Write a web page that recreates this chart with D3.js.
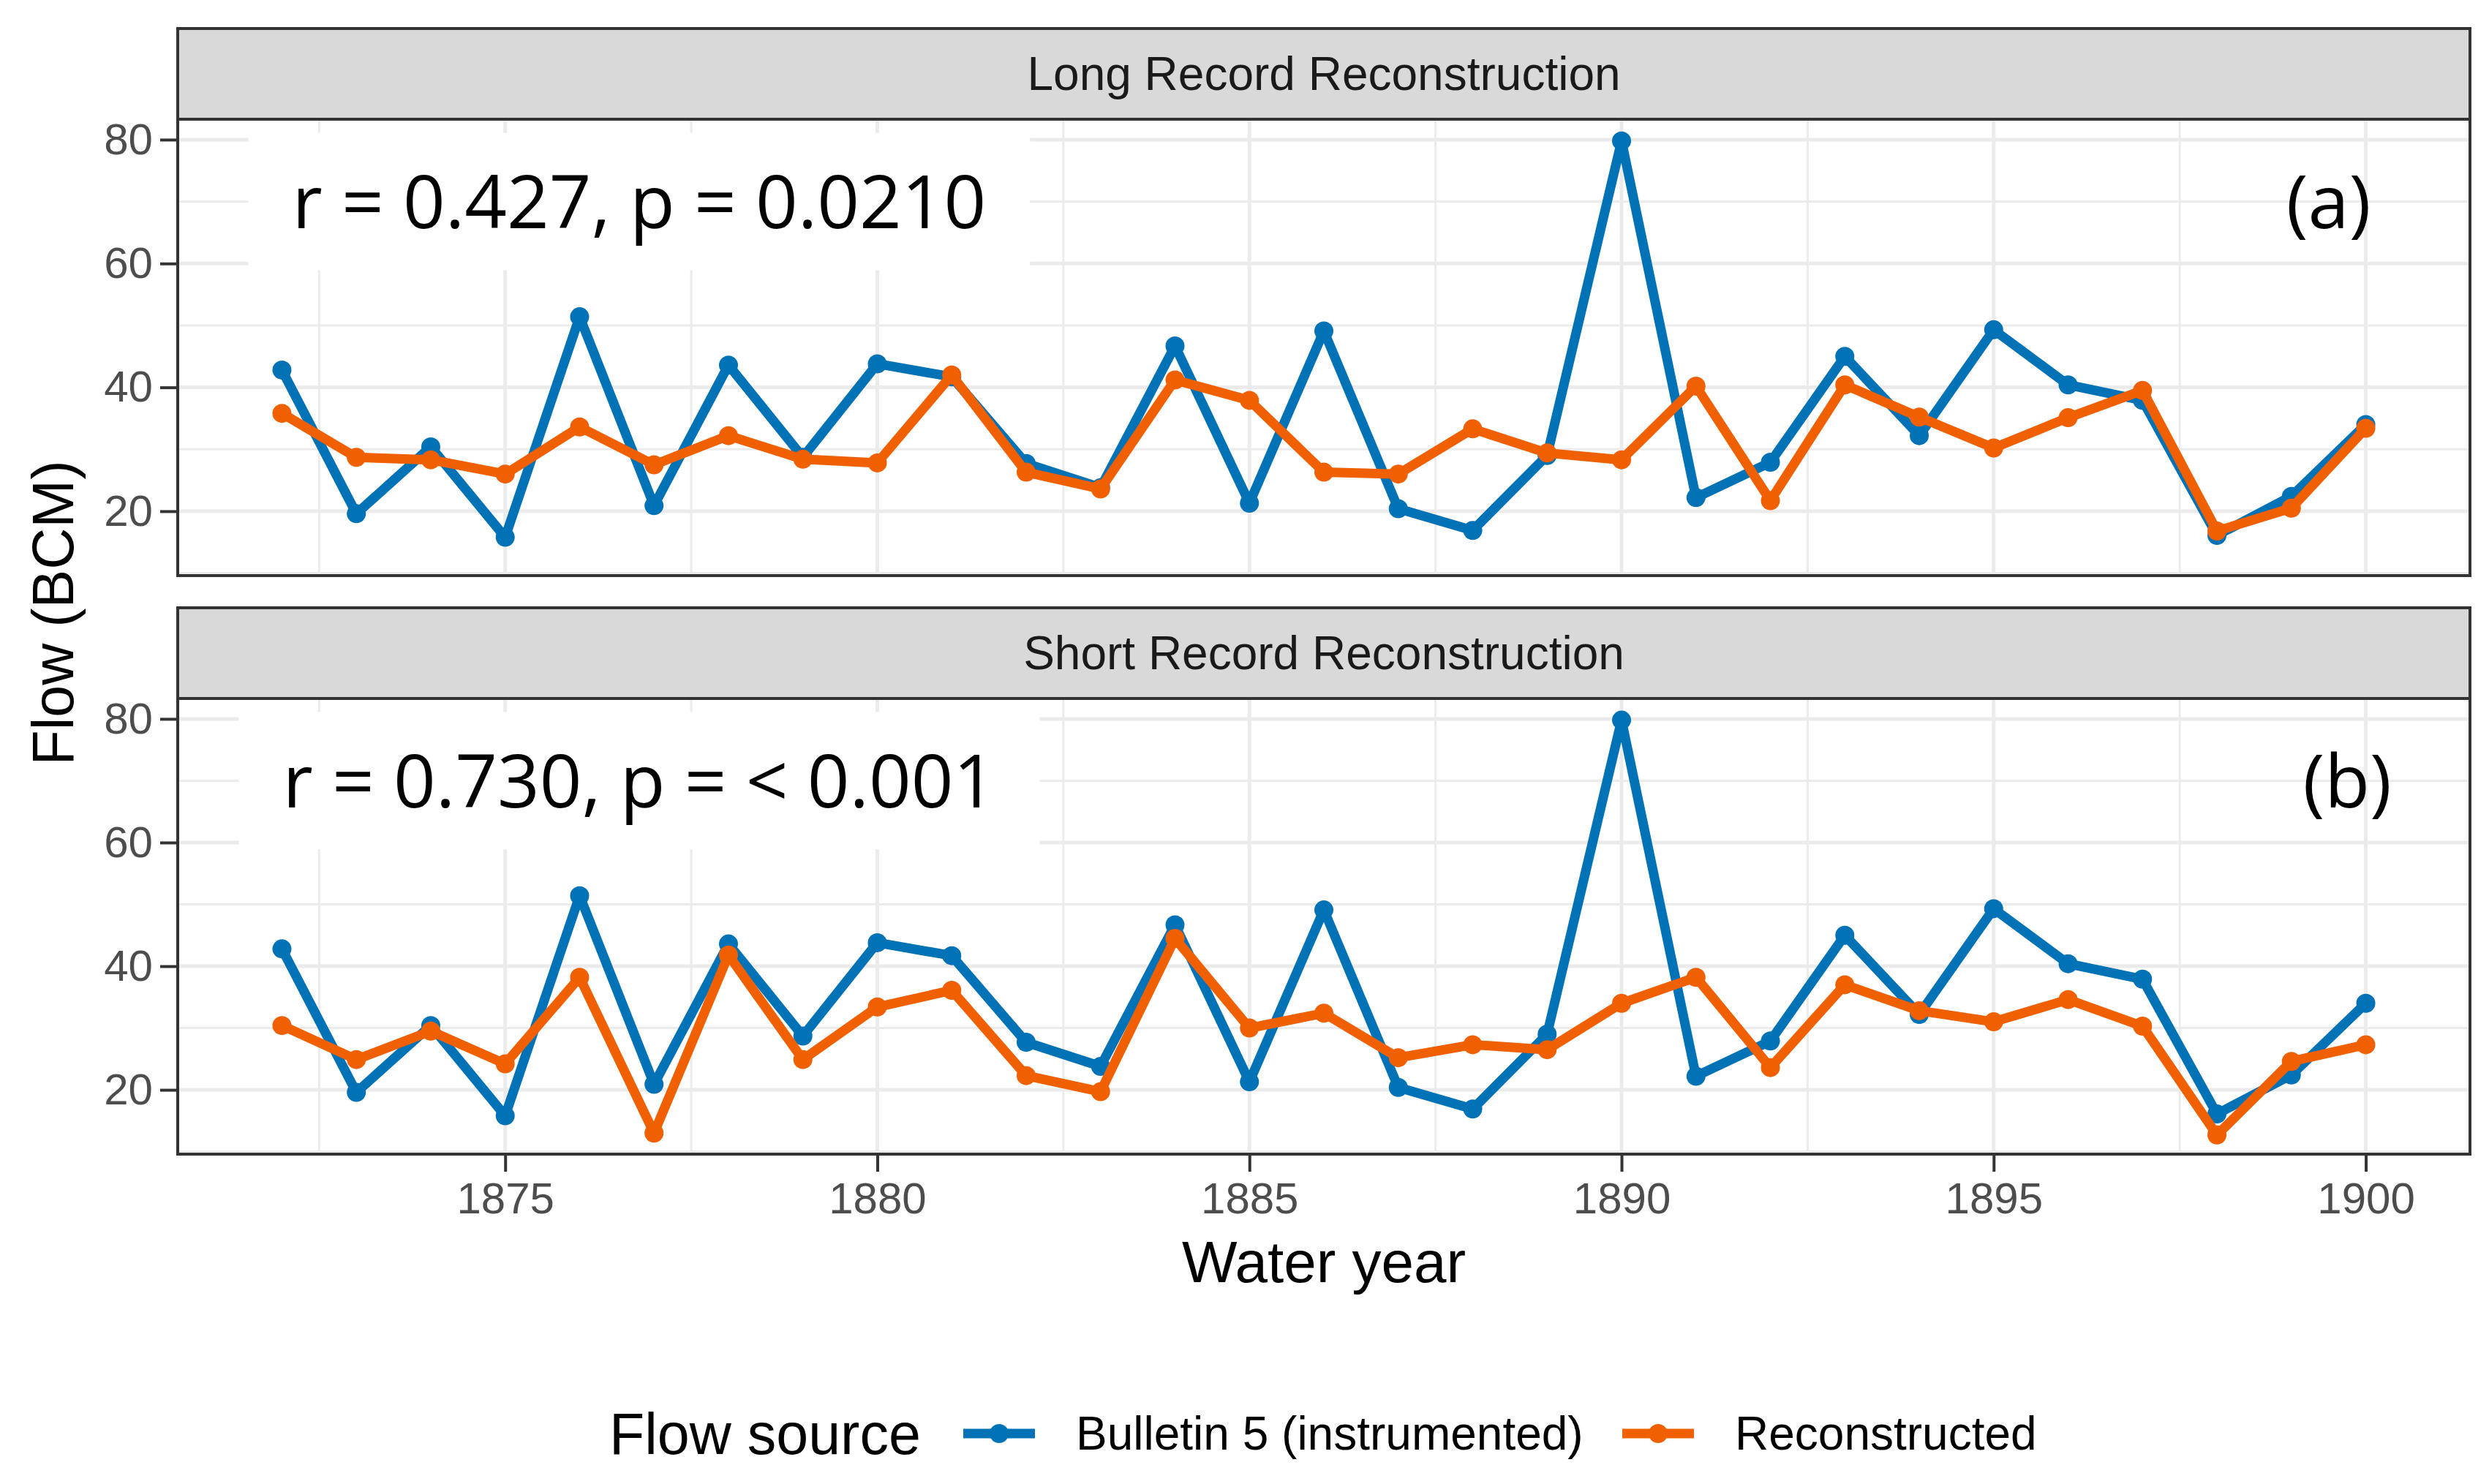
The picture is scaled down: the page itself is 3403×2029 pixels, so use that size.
<!DOCTYPE html>
<html>
<script src="https://d3js.org/d3.v7.min.js"></script>
<head>
  <title>Flow reconstruction</title>
  <style>
    body { margin: 0; background: #ffffff; }
  </style>
</head>
<body>
  <div id="canvas"></div>

  <script>
    // Data
    var years = [1872, 1873, 1874, 1875, 1876, 1877, 1878, 1879, 1880, 1881, 1882, 1883, 1884, 1885, 1886,
                 1887, 1888, 1889, 1890, 1891, 1892, 1893, 1894, 1895, 1896, 1897, 1898, 1899, 1900];
    var bulletin = [42.8, 19.6, 30.4, 15.8, 51.4, 20.9, 43.6, 28.7, 43.8, 41.7, 27.7, 23.8, 46.7, 21.3, 49.1,
                    20.4, 16.9, 29.0, 79.8, 22.2, 27.9, 45.0, 32.2, 49.3, 40.4, 37.9, 16.1, 22.4, 34.0];
    var longRecon = [35.8, 28.7, 28.3, 26.0, 33.6, 27.5, 32.2, 28.4, 27.8, 42.0, 26.3, 23.6, 41.2, 37.9, 26.3,
                     26.0, 33.3, 29.4, 28.3, 40.2, 21.7, 40.4, 35.2, 30.2, 35.1, 39.5, 16.8, 20.5, 33.4];
    var shortRecon = [30.4, 24.9, 29.5, 24.2, 38.2, 13.0, 41.8, 24.9, 33.4, 36.1, 22.3, 19.7, 44.5, 30.0, 32.4,
                      25.2, 27.3, 26.5, 34.0, 38.2, 23.6, 37.0, 32.8, 31.0, 34.6, 30.3, 12.7, 24.6, 27.3];

    var panelTitles = ["Long Record Reconstruction", "Short Record Reconstruction"];
    var statLabels = ["r = 0.427, p = 0.0210", "r = 0.730, p = < 0.001"];
    var panelTags = ["(a)", "(b)"];
    var seriesNames = ["Bulletin 5 (instrumented)", "Reconstructed"];
    var xTicks = [1875, 1880, 1885, 1890, 1895, 1900];
    var xMinor = [1872.5, 1877.5, 1882.5, 1887.5, 1892.5, 1897.5];
    var yTicks = [20, 40, 60, 80];
    var yMinor = [10, 30, 50, 70];

    // Layout
    var W = 3403, H = 2029;
    var left = 243, right = 3377;
    var stripH = 124;
    var panels = [
      { top: 39, bottom: 787, recon: longRecon, tagX: 1899.5 },
      { top: 831, bottom: 1578, recon: shortRecon, tagX: 1899.75 }
    ];
    var colors = ["#0072B5", "#F06000"];
    var sans = "'Liberation Sans', Arial, sans-serif";
    var annoFont = "'Open Sans', 'Liberation Sans', sans-serif";

    var svg = d3.select('#canvas')
      .append('svg')
        .attr('width', W)
        .attr('height', H)
        .style('font-family', sans);

    var x = d3.scaleLinear()
      .domain([1870.6, 1901.4])
      .range([left, right]);

    panels.forEach(function(p, i) {
      var pTop = p.top + stripH;
      var y = d3.scaleLinear()
        .domain([9.6, 83.3])
        .range([p.bottom, pTop]);

      var g = svg.append('g');

      // grid
      g.selectAll('.yminor').data(yMinor).enter().append('line')
        .attr('x1', left).attr('x2', right)
        .attr('y1', function(d) { return y(d); }).attr('y2', function(d) { return y(d); })
        .attr('stroke', '#EBEBEB').attr('stroke-width', 3);
      g.selectAll('.xminor').data(xMinor).enter().append('line')
        .attr('y1', pTop).attr('y2', p.bottom)
        .attr('x1', function(d) { return x(d); }).attr('x2', function(d) { return x(d); })
        .attr('stroke', '#EBEBEB').attr('stroke-width', 3);
      g.selectAll('.ymajor').data(yTicks).enter().append('line')
        .attr('x1', left).attr('x2', right)
        .attr('y1', function(d) { return y(d); }).attr('y2', function(d) { return y(d); })
        .attr('stroke', '#EBEBEB').attr('stroke-width', 5);
      g.selectAll('.xmajor').data(xTicks).enter().append('line')
        .attr('y1', pTop).attr('y2', p.bottom)
        .attr('x1', function(d) { return x(d); }).attr('x2', function(d) { return x(d); })
        .attr('stroke', '#EBEBEB').attr('stroke-width', 5);

      // stat label with white box
      var lab = g.append('g');
      var labText = lab.append('text')
        .text(statLabels[i])
        .attr('x', x(1876.8))
        .attr('y', y(70))
        .attr('dy', '0.36em')
        .attr('text-anchor', 'middle')
        .style('font-family', annoFont)
        .style('font-size', '101px')
        .attr('fill', '#000000');
      var bb = labText.node().getBBox();
      lab.insert('rect', 'text')
        .attr('x', bb.x - 60)
        .attr('y', y(70) - 94)
        .attr('width', bb.width + 120)
        .attr('height', 188)
        .attr('fill', '#ffffff');

      g.append('text')
        .text(panelTags[i])
        .attr('x', x(p.tagX))
        .attr('y', y(70))
        .attr('dy', '0.36em')
        .attr('text-anchor', 'middle')
        .style('font-family', annoFont)
        .style('font-size', '101px')
        .attr('fill', '#000000');

      // series
      var series = [bulletin, p.recon];
      series.forEach(function(vals, s) {
        var pts = years.map(function(yr, k) { return [yr, vals[k]]; });
        g.append('path')
          .datum(pts)
          .attr('d', d3.line().x(function(d) { return x(d[0]); }).y(function(d) { return y(d[1]); }))
          .attr('fill', 'none')
          .attr('stroke', colors[s])
          .attr('stroke-width', 13)
          .attr('stroke-linejoin', 'round');
        g.selectAll('.pt' + s).data(pts).enter().append('circle')
          .attr('cx', function(d) { return x(d[0]); })
          .attr('cy', function(d) { return y(d[1]); })
          .attr('r', 13)
          .attr('fill', colors[s]);
      });

      // panel border
      g.append('rect')
        .attr('x', left).attr('y', pTop)
        .attr('width', right - left).attr('height', p.bottom - pTop)
        .attr('fill', 'none').attr('stroke', '#333333').attr('stroke-width', 4);

      // strip
      g.append('rect')
        .attr('x', left).attr('y', p.top)
        .attr('width', right - left).attr('height', stripH)
        .attr('fill', '#D9D9D9').attr('stroke', '#333333').attr('stroke-width', 4);
      g.append('text')
        .text(panelTitles[i])
        .attr('x', (left + right) / 2)
        .attr('y', p.top + stripH / 2)
        .attr('dy', '0.35em')
        .attr('text-anchor', 'middle')
        .style('font-size', '64px')
        .attr('fill', '#1A1A1A');

      // y axis
      var yAxis = g.append('g')
        .attr('transform', 'translate(' + left + ',0)')
        .call(d3.axisLeft(y).tickValues(yTicks).tickSize(24).tickPadding(10));
      yAxis.select('.domain').remove();
      yAxis.selectAll('line').attr('stroke', '#333333').attr('stroke-width', 4);
      yAxis.selectAll('text').style('font-size', '60px').style('font-family', sans).attr('fill', '#4D4D4D');

      // x axis only on the bottom panel
      if (i === panels.length - 1) {
        var xAxis = g.append('g')
          .attr('transform', 'translate(0,' + p.bottom + ')')
          .call(d3.axisBottom(x).tickValues(xTicks).tickFormat(d3.format('d')).tickSize(24).tickPadding(14));
        xAxis.select('.domain').remove();
        xAxis.selectAll('line').attr('stroke', '#333333').attr('stroke-width', 4);
        xAxis.selectAll('text').style('font-size', '60px').style('font-family', sans).attr('fill', '#4D4D4D');
      }
    });

    // axis titles
    svg.append('text')
      .text('Water year')
      .attr('x', (left + right) / 2)
      .attr('y', 1753)
      .attr('text-anchor', 'middle')
      .style('font-size', '80px')
      .attr('fill', '#000000');

    svg.append('text')
      .text('Flow (BCM)')
      .attr('transform', 'translate(100,' + 838 + ') rotate(-90)')
      .attr('text-anchor', 'middle')
      .style('font-size', '79px')
      .attr('fill', '#000000');

    // legend
    var legY = 1960;
    svg.append('text')
      .text('Flow source')
      .attr('x', 833)
      .attr('y', legY)
      .attr('dy', '0.35em')
      .style('font-size', '79px')
      .attr('fill', '#000000');

    var keyX = [1317, 2218];
    seriesNames.forEach(function(name, s) {
      svg.append('line')
        .attr('x1', keyX[s]).attr('x2', keyX[s] + 98)
        .attr('y1', legY).attr('y2', legY)
        .attr('stroke', colors[s]).attr('stroke-width', 13);
      svg.append('circle')
        .attr('cx', keyX[s] + 49).attr('cy', legY).attr('r', 13)
        .attr('fill', colors[s]);
      svg.append('text')
        .text(name)
        .attr('x', keyX[s] + 154)
        .attr('y', legY)
        .attr('dy', '0.35em')
        .style('font-size', '64px')
        .attr('fill', '#000000');
    });
  </script>
</body>
</html>
